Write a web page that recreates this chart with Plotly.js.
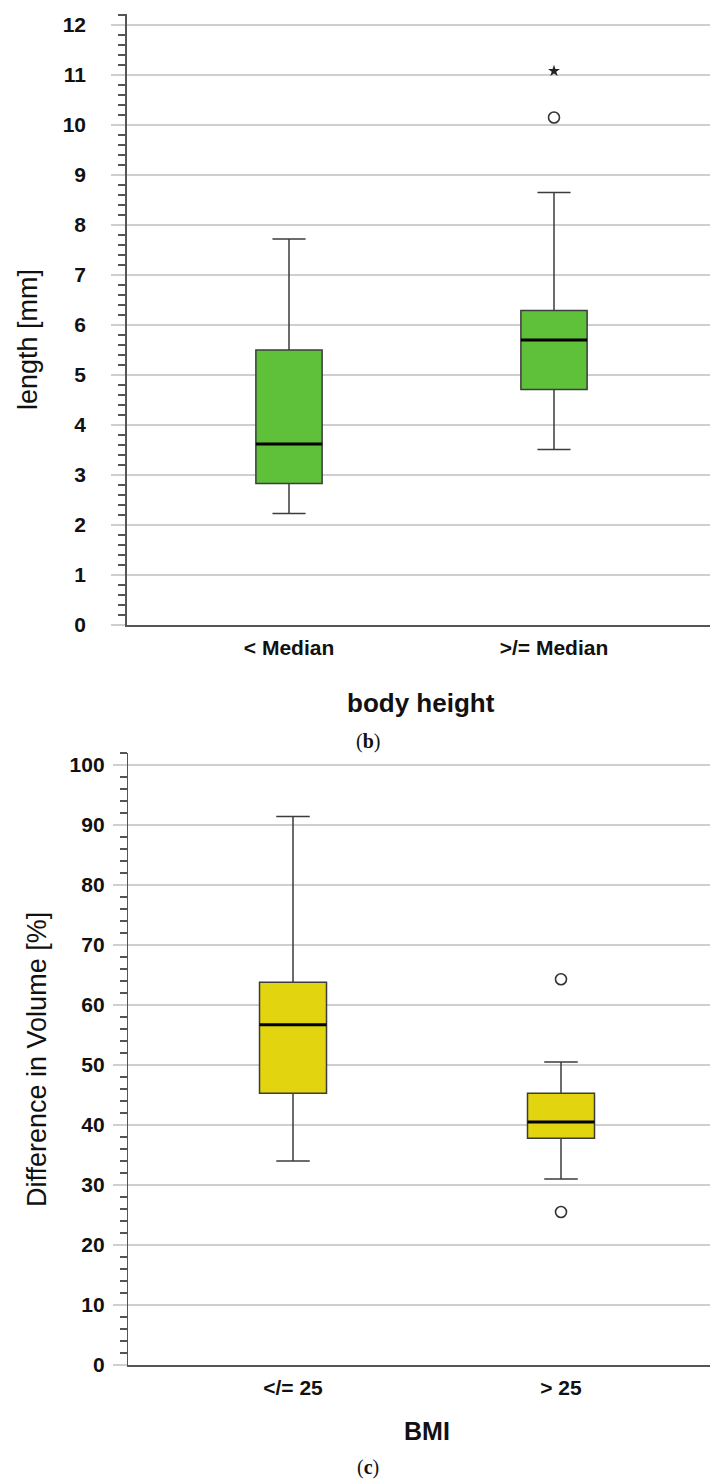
<!DOCTYPE html>
<html>
<head>
<meta charset="utf-8">
<script src="https://cdn.plot.ly/plotly-3.0.1.min.js"></script>
<style>
  html, body { margin: 0; padding: 0; background: #ffffff; }
  #chart { width: 710px; height: 1479px; }
</style>
</head>
<body>
<div id="chart"></div>
<script>
// Panel (b): incision length by body height group
const heightGroups = ['< Median', '>/= Median'];
const lengthQ1 = [2.83, 4.71];
const lengthMedian = [3.62, 5.70];
const lengthQ3 = [5.50, 6.29];
const lengthLow = [2.23, 3.51];
const lengthHigh = [7.72, 8.65];
const lengthOutlierGroup = [1];
const lengthOutlierValue = [10.15];
const lengthExtremeGroup = [1];
const lengthExtremeValue = [11.08];

// Panel (c): difference in volume by BMI group
const bmiGroups = ['</= 25', '> 25'];
const volQ1 = [45.3, 37.8];
const volMedian = [56.7, 40.5];
const volQ3 = [63.8, 45.3];
const volLow = [34.0, 31.0];
const volHigh = [91.4, 50.5];
const volOutlierGroup = [1, 1];
const volOutlierValue = [64.3, 25.5];

const W = 710, H = 1479;
const BOX_W = 0.25;
const FONT = 'Liberation Sans, Arial, sans-serif';
const positions = [0, 1];

function medianSegments(meds) {
  const xs = [], ys = [];
  meds.forEach((m, i) => {
    xs.push(positions[i] - BOX_W / 2, positions[i] + BOX_W / 2, null);
    ys.push(m, m, null);
  });
  return { xs, ys };
}

function boxTrace(q1, med, q3, lo, hi, fill, xa, ya) {
  return {
    type: 'box', x: positions, q1: q1, median: med, q3: q3,
    lowerfence: lo, upperfence: hi, boxpoints: false,
    width: BOX_W, whiskerwidth: 0.5,
    fillcolor: fill, line: { color: '#3c3c3c', width: 1.5 },
    xaxis: xa, yaxis: ya, hoverinfo: 'skip', showlegend: false
  };
}

const medB = medianSegments(lengthMedian);
const medC = medianSegments(volMedian);

const data = [
  boxTrace(lengthQ1, lengthMedian, lengthQ3, lengthLow, lengthHigh, '#5fc13a', 'x', 'y'),
  { type: 'scatter', mode: 'lines', x: medB.xs, y: medB.ys, line: { color: '#000', width: 3 },
    xaxis: 'x', yaxis: 'y', showlegend: false, hoverinfo: 'skip' },
  { type: 'scatter', mode: 'markers', x: lengthOutlierGroup, y: lengthOutlierValue,
    marker: { symbol: 'circle-open', size: 11, color: '#333', line: { width: 1.6 } },
    xaxis: 'x', yaxis: 'y', showlegend: false },
  { type: 'scatter', mode: 'markers', x: lengthExtremeGroup, y: lengthExtremeValue,
    marker: { symbol: 'star', size: 9, color: '#222' },
    xaxis: 'x', yaxis: 'y', showlegend: false },

  boxTrace(volQ1, volMedian, volQ3, volLow, volHigh, '#e2d50f', 'x2', 'y2'),
  { type: 'scatter', mode: 'lines', x: medC.xs, y: medC.ys, line: { color: '#000', width: 3 },
    xaxis: 'x2', yaxis: 'y2', showlegend: false, hoverinfo: 'skip' },
  { type: 'scatter', mode: 'markers', x: volOutlierGroup, y: volOutlierValue,
    marker: { symbol: 'circle-open', size: 11, color: '#333', line: { width: 1.6 } },
    xaxis: 'x2', yaxis: 'y2', showlegend: false }
];

function yAxis(domain, range, dtick, minorDtick, standoff, anchor) {
  return {
    domain: domain, range: range, anchor: anchor,
    tick0: 0, dtick: dtick,
    showgrid: true, gridcolor: '#cfcfcf', gridwidth: 1.5,
    showline: true, linecolor: '#555', linewidth: 1.5,
    ticks: 'outside', ticklen: 14, tickcolor: '#cfcfcf', tickwidth: 1.5,
    minor: { dtick: minorDtick, tick0: 0, ticks: 'outside', ticklen: 7,
             tickcolor: '#555', tickwidth: 1.5, showgrid: false },
    zeroline: false, ticklabelstandoff: standoff,
    tickfont: { family: FONT, size: 21, weight: 'bold', color: '#111' }
  };
}

function xAxis(domain, range, labels, anchor) {
  return {
    domain: domain, range: range, anchor: anchor,
    tickvals: positions, ticktext: labels,
    showgrid: false, zeroline: false,
    showline: true, linecolor: '#555', linewidth: 1.5,
    ticks: '', ticklabelstandoff: 3,
    tickfont: { family: FONT, size: 21, weight: 'bold', color: '#111' }
  };
}

// pixel helpers for paper coordinates
const px = v => v / W;
const py = v => 1 - v / H;

const layout = {
  width: W, height: H,
  margin: { l: 0, r: 0, t: 0, b: 0 },
  paper_bgcolor: '#fff', plot_bgcolor: '#fff',
  showlegend: false,
  xaxis: xAxis([px(126.7), 1], [-0.6125, 1.5887], heightGroups, 'y'),
  yaxis: yAxis([py(625), py(14)], [0, 12.22], 1, 0.2, 21, 'x'),
  xaxis2: xAxis([px(128.3), 1], [-0.6146, 1.556], bmiGroups, 'y2'),
  yaxis2: yAxis([py(1365), py(752.7)], [0, 102.05], 10, 2, 4, 'x2'),
  annotations: [
    { text: 'length [mm]', textangle: -90, xref: 'paper', yref: 'paper',
      x: px(28), y: py(340), xanchor: 'center', yanchor: 'middle', showarrow: false,
      font: { family: FONT, size: 27, color: '#111' } },
    { text: '<b>body height</b>', xref: 'paper', yref: 'paper',
      x: px(421), y: py(703), xanchor: 'center', yanchor: 'middle', showarrow: false,
      font: { family: FONT, size: 26, color: '#111' } },
    { text: '(<b>b</b>)', xref: 'paper', yref: 'paper',
      x: px(368), y: py(741), xanchor: 'center', yanchor: 'middle', showarrow: false,
      font: { family: 'Liberation Serif, serif', size: 20, color: '#111' } },
    { text: 'Difference in Volume [%]', textangle: -90, xref: 'paper', yref: 'paper',
      x: px(37), y: py(1060), xanchor: 'center', yanchor: 'middle', showarrow: false,
      font: { family: FONT, size: 27, color: '#111' } },
    { text: '<b>BMI</b>', xref: 'paper', yref: 'paper',
      x: px(427), y: py(1431), xanchor: 'center', yanchor: 'middle', showarrow: false,
      font: { family: FONT, size: 25, color: '#111' } },
    { text: '(<b>c</b>)', xref: 'paper', yref: 'paper',
      x: px(368), y: py(1467), xanchor: 'center', yanchor: 'middle', showarrow: false,
      font: { family: 'Liberation Serif, serif', size: 20, color: '#111' } }
  ]
};

Plotly.newPlot('chart', data, layout, { staticPlot: true, displayModeBar: false });
</script>
</body>
</html>
